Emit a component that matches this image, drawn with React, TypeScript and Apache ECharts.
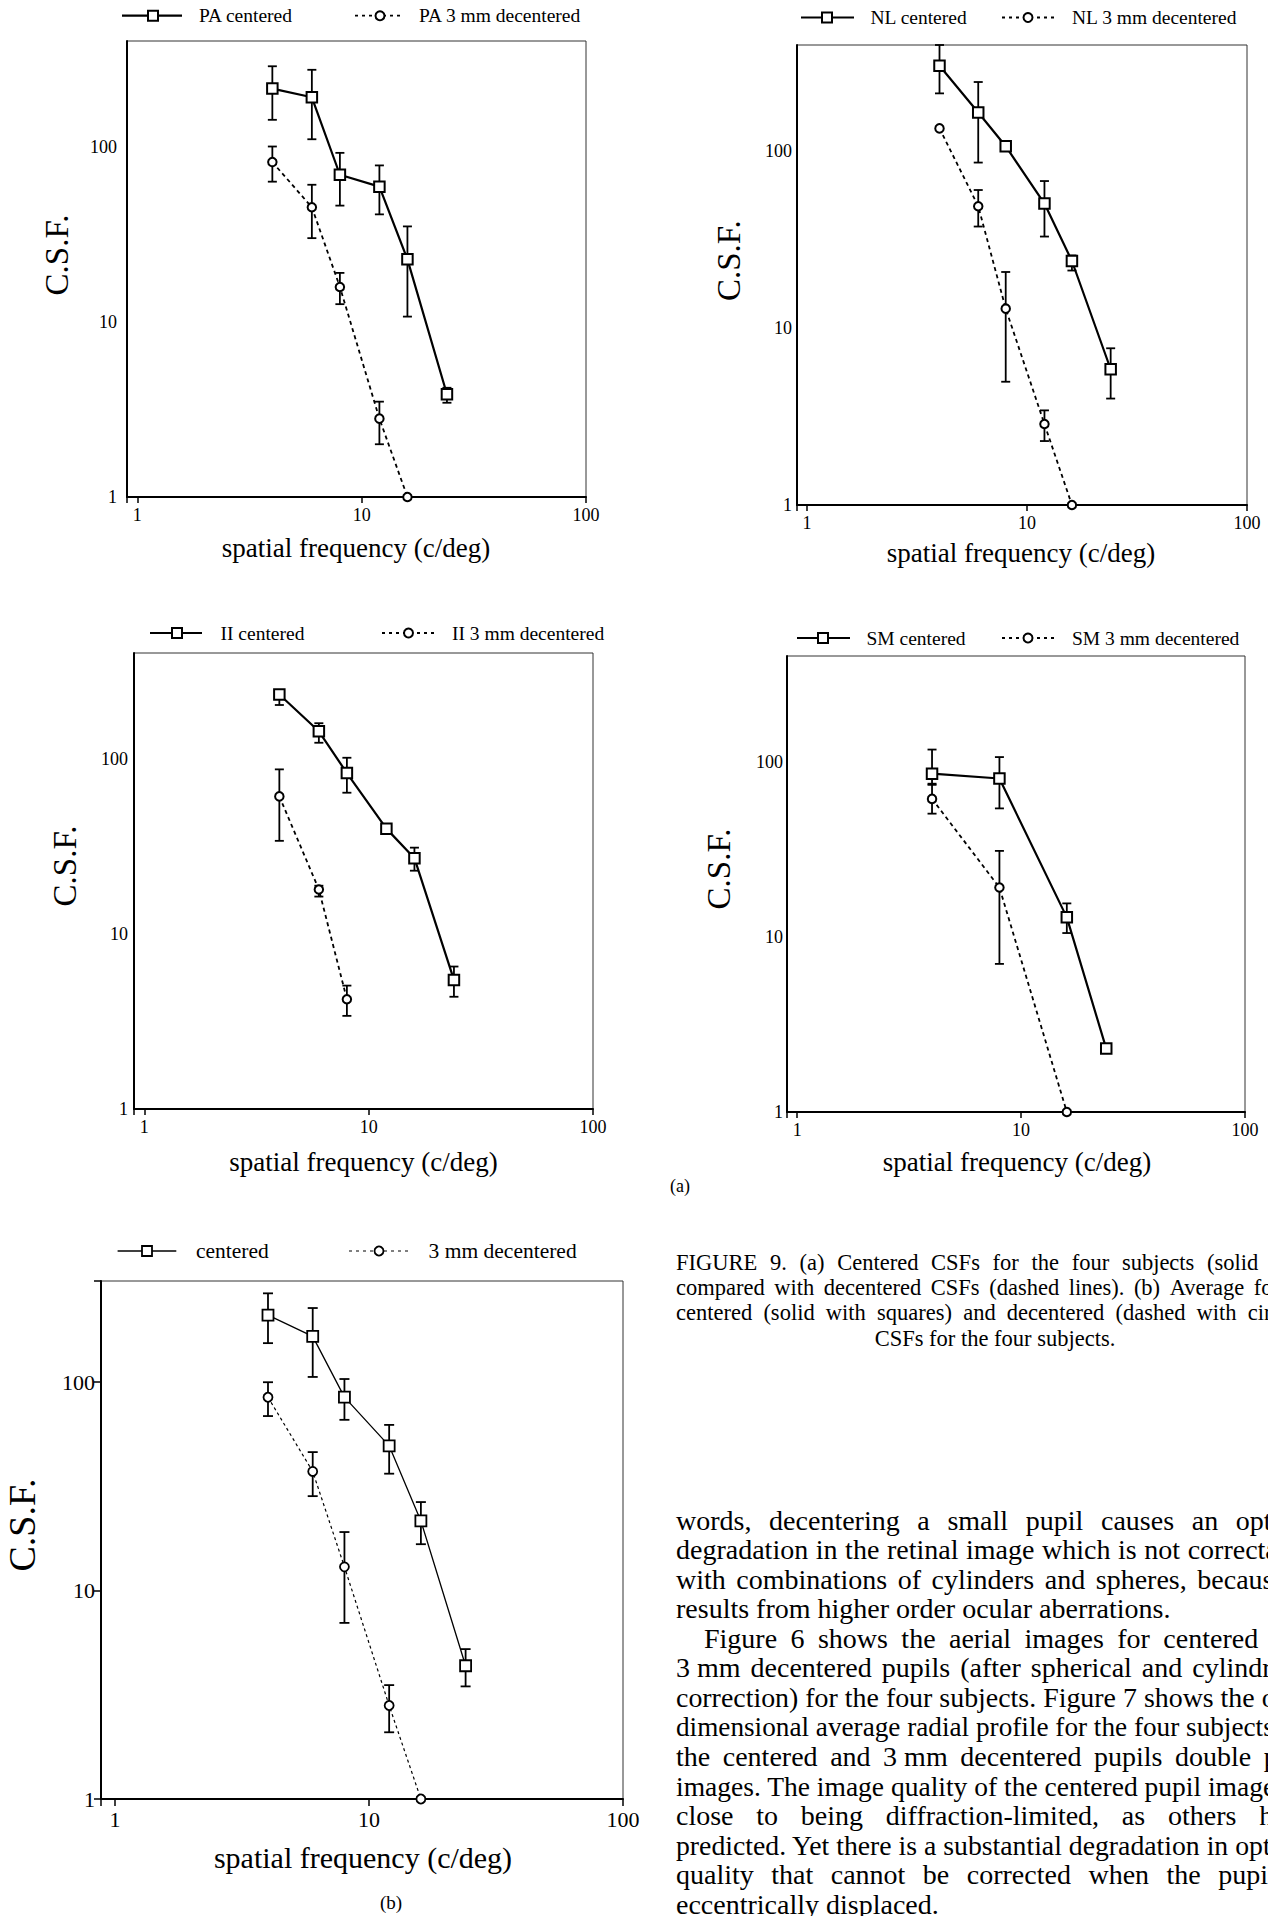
import React, { useEffect, useRef } from "react";
import * as echarts from "echarts";

const FONT = '"Liberation Serif", "Times New Roman", Times, serif';

// ---------------- data ----------------
const freqAll = [4, 6, 8, 12, 16, 24];
const freqDec = [4, 6, 8, 12, 16];

// PA
const paCenY = [214, 191, 69, 59, 22.7, 3.86];
const paCenHi = [287, 274, 92, 78, 35, 4.2];
const paCenLo = [142, 110, 46, 41, 10.7, 3.45];
const paDecY = [81.5, 45, 15.8, 2.8, 1.0];
const paDecHi = [100, 60.5, 19, 3.5, null];
const paDecLo = [63, 30, 12.6, 2.0, null];

// NL
const nlCenY = [305, 166, 107, 50.7, 24, 5.86];
const nlCenHi = [400, 247, null, 68, 25.8, 7.7];
const nlCenLo = [213, 86.5, null, 33, 21.2, 4.0];
const nlDecY = [135, 49, 12.9, 2.87, 1.0];
const nlDecHi = [null, 60.5, 20.8, 3.43, null];
const nlDecLo = [null, 37.6, 4.98, 2.3, null];

// II
const iiCenY = [232, 143, 82.6, 39.8, 27, 5.45];
const iiCenHi = [244, 159, 101, null, 31, 6.5];
const iiCenLo = [202, 123, 63.8, null, 22.9, 4.37];
const iiDecX = [4, 6, 8];
const iiDecY = [60.8, 17.9, 4.23];
const iiDecHi = [86.7, 18.8, 5.06];
const iiDecLo = [33.9, 16.3, 3.4];

// SM
const smCenX = [4, 8, 16, 24];
const smCenY = [85.2, 80, 12.9, 2.3];
const smCenHi = [117, 106, 15.5, null];
const smCenLo = [73.6, 54, 10.5, null];
const smDecX = [4, 8, 16];
const smDecY = [61.2, 19.1, 1.0];
const smDecHi = [74.7, 30.9, null];
const smDecLo = [50.4, 7.0, null];

// Average
const avCenY = [210, 166, 84.8, 49.5, 21.6, 4.36];
const avCenHi = [267, 227, 103.6, 62.4, 26.6, 5.24];
const avCenLo = [154, 106, 66, 36.4, 16.7, 3.47];
const avDecY = [84.7, 37.3, 13, 2.81, 1.0];
const avDecHi = [100, 46.2, 19.1, 3.52, null];
const avDecLo = [68.8, 28.4, 7.0, 2.09, null];

const xTickLabels = [1, 10, 100];
const yTickLabels = [1, 10, 100];

const xTitle = "spatial frequency (c/deg)";
const yTitle = "C.S.F.";

const captionLines = [
  "FIGURE 9. (a) Centered CSFs for the four subjects (solid lines)",
  "compared with decentered CSFs (dashed lines). (b) Average for",
  "centered (solid with squares) and decentered (dashed with circles)",
  "CSFs for the four subjects.",
];

const bodyLines = [
  "words, decentering a small pupil causes an optical",
  "degradation in the retinal image which is not correctable",
  "with combinations of cylinders and spheres, because it",
  "results from higher order ocular aberrations.",
  "Figure 6 shows the aerial images for centered and",
  "3\u00a0mm decentered pupils (after spherical and cylindrical",
  "correction) for the four subjects. Figure 7 shows the one-",
  "dimensional average radial profile for the four subjects for",
  "the centered and 3\u00a0mm decentered pupils double pass",
  "images. The image quality of the centered pupil images is",
  "close to being diffraction-limited, as others have",
  "predicted. Yet there is a substantial degradation in optical",
  "quality that cannot be corrected when the pupil is",
  "eccentrically displaced.",
];
const bodyMode = ["j", "j", "j", "l", "j", "j", "j", "j", "j", "j", "j", "j", "j", "l"];
const bodyIndent = [0, 0, 0, 0, 1, 0, 0, 0, 0, 0, 0, 0, 0, 0];

// ---------------- layout ----------------
type Curve = { x: number[]; y: number[]; hi: (number | null)[]; lo: (number | null)[] };
type Panel = {
  cenName: string;
  decName: string;
  cen: Curve;
  dec: Curve;
  box: { left: number; top: number; width: number; height: number };
  xMin: number;
  yMax: number;
  tickFont: number;
  xMargin: number;
  yMargin: number;
  yTicks: boolean;
  tickLen: number;
  lineW: number;
  dashW: number;
  dash: number[];
  sq: number;
  circ: number;
  markW: number;
  barW: number;
  cap: number;
  leg: { y: number; s: [number, number]; sq: number; t1: number; d: [number, number]; c: number; t2: number; font: number };
  yT: { x: number; y: number; size: number };
  xT: { x: number; y: number; size: number };
};

const smallStyle = {
  tickFont: 18, xMargin: 9, tickLen: 6, lineW: 2.2, dashW: 1.8, dash: [4, 3.5],
  sq: 10.5, circ: 8.5, markW: 2, barW: 1.8, cap: 9, yTicks: false, xMin: 0.9, yMax: 400,
};

const panels: Panel[] = [
  {
    ...smallStyle,
    cenName: "PA centered", decName: "PA 3 mm decentered",
    cen: { x: freqAll, y: paCenY, hi: paCenHi, lo: paCenLo },
    dec: { x: freqDec, y: paDecY, hi: paDecHi, lo: paDecLo },
    box: { left: 127, top: 41, width: 459, height: 456 },
    yMargin: 10,
    leg: { y: 15.7, s: [122, 182], sq: 153, t1: 199, d: [355, 403], c: 380, t2: 419, font: 19.5 },
    yT: { x: 56.6, y: 255, size: 33 },
    xT: { x: 356, y: 548, size: 27 },
  },
  {
    ...smallStyle,
    cenName: "NL centered", decName: "NL 3 mm decentered",
    cen: { x: freqAll, y: nlCenY, hi: nlCenHi, lo: nlCenLo },
    dec: { x: freqDec, y: nlDecY, hi: nlDecHi, lo: nlDecLo },
    box: { left: 797, top: 45, width: 450, height: 460 },
    yMargin: 5,
    leg: { y: 17.5, s: [801, 854], sq: 827, t1: 870.5, d: [1002, 1054.5], c: 1028, t2: 1072, font: 19.5 },
    yT: { x: 729, y: 260.7, size: 33 },
    xT: { x: 1021, y: 553, size: 27 },
  },
  {
    ...smallStyle,
    cenName: "II centered", decName: "II 3 mm decentered",
    cen: { x: freqAll, y: iiCenY, hi: iiCenHi, lo: iiCenLo },
    dec: { x: iiDecX, y: iiDecY, hi: iiDecHi, lo: iiDecLo },
    box: { left: 134, top: 653, width: 459, height: 456 },
    yMargin: 6,
    leg: { y: 633, s: [150, 202], sq: 177, t1: 220.5, d: [382, 435], c: 408.5, t2: 452, font: 19.5 },
    yT: { x: 64.7, y: 866, size: 33 },
    xT: { x: 363.5, y: 1162, size: 27 },
  },
  {
    ...smallStyle,
    cenName: "SM centered", decName: "SM 3 mm decentered",
    cen: { x: smCenX, y: smCenY, hi: smCenHi, lo: smCenLo },
    dec: { x: smDecX, y: smDecY, hi: smDecHi, lo: smDecLo },
    box: { left: 787, top: 656, width: 458, height: 456 },
    yMargin: 4,
    leg: { y: 638, s: [797, 850], sq: 823, t1: 866.5, d: [1002, 1054.5], c: 1028, t2: 1072, font: 19.5 },
    yT: { x: 719, y: 869, size: 33 },
    xT: { x: 1017, y: 1162, size: 27 },
  },
  {
    cenName: "centered", decName: "3 mm decentered",
    cen: { x: freqAll, y: avCenY, hi: avCenHi, lo: avCenLo },
    dec: { x: freqDec, y: avDecY, hi: avDecHi, lo: avDecLo },
    box: { left: 101, top: 1281, width: 522, height: 518 },
    xMin: 0.88, yMax: 306,
    tickFont: 22, xMargin: 9, yMargin: 6, yTicks: true, tickLen: 7,
    lineW: 1.3, dashW: 1.2, dash: [3, 3], sq: 11, circ: 9, markW: 1.8, barW: 1.8, cap: 10,
    leg: { y: 1251, s: [117.6, 176.3], sq: 147, t1: 196, d: [349, 408], c: 379, t2: 428.6, font: 21.5 },
    yT: { x: 22.4, y: 1525, size: 38 },
    xT: { x: 363, y: 1857, size: 30 },
  },
];

const textLayout = {
  left: 676,
  captionWidths: [645, 604, 638, 638],
  captionSize: 22.5,
  captionY0: 1262,
  captionStep: 25.4,
  bodyWidth: 636,
  bodySize: 28,
  bodyY0: 1520,
  bodyStep: 29.55,
  indent: 28,
};

// ---------------- helpers ----------------
function tickFormatter(ticks: number[]) {
  return (v: number) => {
    const t = ticks.find((k) => Math.abs(k - v) < 1e-6 * k);
    return t === undefined ? "" : String(t);
  };
}

function points(c: Curve) {
  return c.x.map((x, i) => [x, c.y[i]]);
}

function bars(c: Curve) {
  const out: number[][] = [];
  c.x.forEach((x, i) => {
    const lo = c.lo[i];
    const hi = c.hi[i];
    if (lo != null && hi != null) out.push([x, lo, hi]);
  });
  return out;
}

function textStyle(text: string, size: number, align: string, extra: any = {}) {
  return {
    text,
    fontSize: size,
    fontFamily: FONT,
    fill: "#000",
    align,
    textAlign: align,
    verticalAlign: "middle",
    textVerticalAlign: "middle",
    ...extra,
  };
}

function lineEls(
  ctx: CanvasRenderingContext2D,
  text: string,
  x0: number,
  y: number,
  width: number,
  size: number,
  mode: string
) {
  ctx.font = `${size}px ${FONT}`;
  if (mode === "c") {
    return [{ type: "text", x: x0 + width / 2, y, style: textStyle(text, size, "center") }];
  }
  if (mode === "l") {
    return [{ type: "text", x: x0, y, style: textStyle(text, size, "left") }];
  }
  const natural = ctx.measureText(text).width;
  if (natural >= width) {
    return [{ type: "text", x: x0, y, scaleX: width / natural, style: textStyle(text, size, "left") }];
  }
  const words = text.split(" ");
  const ws = words.map((w) => ctx.measureText(w).width);
  const sum = ws.reduce((a, b) => a + b, 0);
  const gap = words.length > 1 ? (width - sum) / (words.length - 1) : 0;
  const out: any[] = [];
  let x = x0;
  words.forEach((w, i) => {
    out.push({ type: "text", x, y, style: textStyle(w, size, "left") });
    x += ws[i] + gap;
  });
  return out;
}

function buildOption() {
  const canvas = document.createElement("canvas");
  const ctx = canvas.getContext("2d") as CanvasRenderingContext2D;

  const grid = panels.map((p) => ({
    left: p.box.left,
    top: p.box.top,
    width: p.box.width,
    height: p.box.height,
    show: true,
    borderColor: "#333",
    borderWidth: 1,
    backgroundColor: "rgba(0,0,0,0)",
    containLabel: false,
  }));

  const axisLine = { show: true, onZero: false, lineStyle: { color: "#000", width: 2 } };

  const xAxis = panels.map((p, i) => ({
    type: "log",
    logBase: 10,
    gridIndex: i,
    min: p.xMin,
    max: 100,
    axisLine,
    axisTick: { show: true, length: p.tickLen, lineStyle: { color: "#000", width: 1.5 } },
    axisLabel: {
      formatter: tickFormatter(xTickLabels),
      fontFamily: FONT,
      fontSize: p.tickFont,
      color: "#000",
      margin: p.xMargin,
    },
    splitLine: { show: false },
    minorTick: { show: false },
  }));

  const yAxis = panels.map((p, i) => ({
    type: "log",
    logBase: 10,
    gridIndex: i,
    min: 1,
    max: p.yMax,
    axisLine,
    axisTick: { show: p.yTicks, length: p.tickLen, lineStyle: { color: "#000", width: 1.5 } },
    axisLabel: {
      formatter: tickFormatter(yTickLabels),
      fontFamily: FONT,
      fontSize: p.tickFont,
      color: "#000",
      margin: p.yMargin,
    },
    splitLine: { show: false },
    minorTick: { show: false },
  }));

  const series: any[] = [];
  panels.forEach((p, i) => {
    const errSeries = (c: Curve, name: string) => ({
      type: "custom",
      name: name + " error",
      xAxisIndex: i,
      yAxisIndex: i,
      z: 2,
      silent: true,
      encode: { x: 0, y: [1, 2] },
      data: bars(c),
      renderItem: (_params: any, api: any) => {
        const x = api.value(0);
        const top = api.coord([x, api.value(2)]);
        const bot = api.coord([x, api.value(1)]);
        const h = p.cap / 2;
        const st = { stroke: "#000", lineWidth: p.barW };
        return {
          type: "group",
          children: [
            { type: "line", shape: { x1: top[0], y1: top[1], x2: bot[0], y2: bot[1] }, style: st },
            { type: "line", shape: { x1: top[0] - h, y1: top[1], x2: top[0] + h, y2: top[1] }, style: st },
            { type: "line", shape: { x1: bot[0] - h, y1: bot[1], x2: bot[0] + h, y2: bot[1] }, style: st },
          ],
        };
      },
    });
    series.push(errSeries(p.cen, p.cenName));
    series.push(errSeries(p.dec, p.decName));
    series.push({
      type: "line",
      name: p.cenName,
      xAxisIndex: i,
      yAxisIndex: i,
      z: 3,
      data: points(p.cen),
      symbol: "rect",
      symbolSize: p.sq,
      showAllSymbol: true,
      clip: false,
      itemStyle: { color: "#fff", borderColor: "#000", borderWidth: p.markW },
      lineStyle: { color: "#000", width: p.lineW, type: "solid" },
      emphasis: { disabled: true },
    });
    series.push({
      type: "line",
      name: p.decName,
      xAxisIndex: i,
      yAxisIndex: i,
      z: 4,
      data: points(p.dec),
      symbol: "circle",
      symbolSize: p.circ,
      showAllSymbol: true,
      clip: false,
      itemStyle: { color: "#fff", borderColor: "#000", borderWidth: p.markW },
      lineStyle: { color: "#000", width: p.dashW, type: p.dash },
      emphasis: { disabled: true },
    });
  });

  const elements: any[] = [];
  panels.forEach((p) => {
    const L = p.leg;
    elements.push({
      type: "line",
      z: 100,
      shape: { x1: L.s[0], y1: L.y, x2: L.s[1], y2: L.y },
      style: { stroke: "#000", lineWidth: p.lineW },
    });
    elements.push({
      type: "rect",
      z: 101,
      shape: { x: L.sq - 5, y: L.y - 5, width: 10, height: 10 },
      style: { fill: "#fff", stroke: "#000", lineWidth: p.markW },
    });
    elements.push({ type: "text", z: 101, x: L.t1, y: L.y, style: textStyle(p.cenName, L.font, "left") });
    elements.push({
      type: "line",
      z: 100,
      shape: { x1: L.d[0], y1: L.y, x2: L.d[1], y2: L.y },
      style: { stroke: "#000", lineWidth: p.dashW, lineDash: [3, 4] },
    });
    elements.push({
      type: "circle",
      z: 101,
      shape: { cx: L.c, cy: L.y, r: 4.5 },
      style: { fill: "#fff", stroke: "#000", lineWidth: p.markW },
    });
    elements.push({ type: "text", z: 101, x: L.t2, y: L.y, style: textStyle(p.decName, L.font, "left") });
    elements.push({
      type: "text",
      z: 101,
      x: p.yT.x,
      y: p.yT.y,
      rotation: Math.PI / 2,
      style: textStyle(yTitle, p.yT.size, "center"),
    });
    elements.push({ type: "text", z: 101, x: p.xT.x, y: p.xT.y, style: textStyle(xTitle, p.xT.size, "center") });
  });

  elements.push({ type: "text", z: 101, x: 680, y: 1186, style: textStyle("(a)", 18, "center") });
  elements.push({ type: "text", z: 101, x: 391, y: 1902, style: textStyle("(b)", 19, "center") });

  const T = textLayout;
  captionLines.forEach((line, i) => {
    const mode = i === captionLines.length - 1 ? "c" : "j";
    const w = mode === "c" ? 638 : T.captionWidths[i];
    elements.push(...lineEls(ctx, line, T.left, T.captionY0 + i * T.captionStep, w, T.captionSize, mode));
  });
  bodyLines.forEach((line, i) => {
    const ind = bodyIndent[i] ? T.indent : 0;
    elements.push(
      ...lineEls(ctx, line, T.left + ind, T.bodyY0 + i * T.bodyStep, T.bodyWidth - ind, T.bodySize, bodyMode[i])
    );
  });

  return {
    animation: false,
    backgroundColor: "#fff",
    grid,
    xAxis,
    yAxis,
    series,
    graphic: { elements },
  };
}

export default function App() {
  const ref = useRef<HTMLDivElement>(null);
  useEffect(() => {
    if (!ref.current) return;
    const chart = echarts.init(ref.current, null, { renderer: "svg", width: 1268, height: 1916 });
    chart.setOption(buildOption() as any);
    return () => chart.dispose();
  }, []);
  return (
    <div
      ref={ref}
      style={{ position: "absolute", left: 0, top: 0, width: 1268, height: 1916, background: "#fff", overflow: "hidden" }}
    />
  );
}
